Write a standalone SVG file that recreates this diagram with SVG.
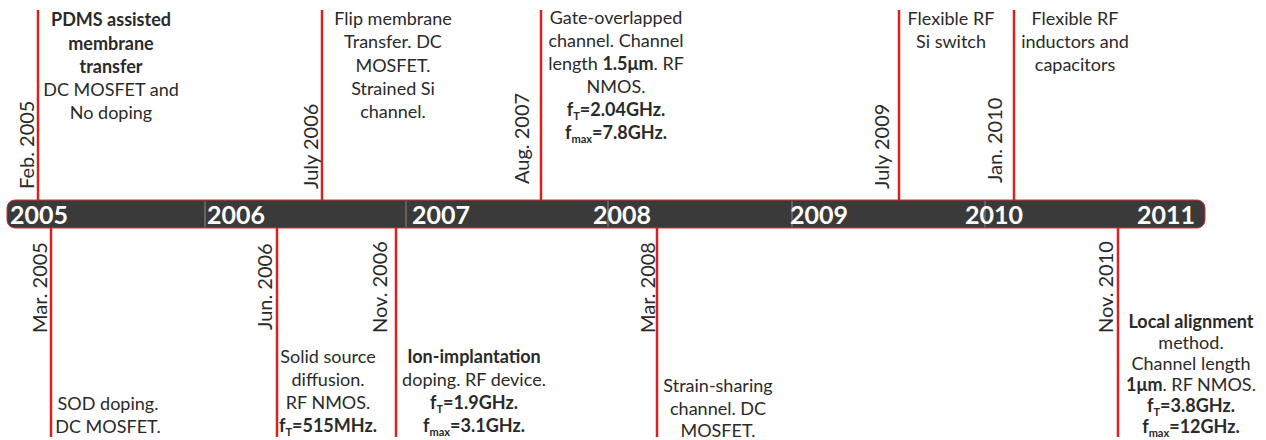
<svg xmlns="http://www.w3.org/2000/svg" width="1266" height="440" viewBox="0 0 1266 440">
<style>
.t{font-family:Lato,"Open Sans","Liberation Sans",sans-serif;font-size:18px;fill:#2a2a2a;text-anchor:middle}
.b{font-weight:bold}
.d{font-family:Lato,"Open Sans","Liberation Sans",sans-serif;font-size:20px;fill:#2a2a2a}
.y{font-family:Lato,"Open Sans","Liberation Sans",sans-serif;font-size:25px;font-weight:bold;fill:#ffffff}
.s{font-size:11px}
.ln{stroke:#dc1f1f;stroke-width:2.5;fill:none}
.sep{stroke:#8a8a8a;stroke-width:1}
</style>
<rect width="1266" height="440" fill="#ffffff"/>
<g id="timeline">
<rect x="7" y="200" width="1198" height="28" rx="8" fill="#3a3a3a" stroke="#d93030" stroke-width="1"/>
<line class="sep" x1="205" y1="201" x2="205" y2="227"/>
<line class="sep" x1="406" y1="201" x2="406" y2="227"/>
<line class="sep" x1="608" y1="201" x2="608" y2="227"/>
<line class="sep" x1="792" y1="201" x2="792" y2="227"/>
<line class="sep" x1="985" y1="201" x2="985" y2="227"/>
<text class="y" x="10" y="224">2005</text>
<text class="y" x="207" y="224">2006</text>
<text class="y" x="412" y="224">2007</text>
<text class="y" x="593" y="224">2008</text>
<text class="y" x="790" y="224">2009</text>
<text class="y" x="965" y="224">2010</text>
<text class="y" x="1137" y="224">2011</text>
</g>
<g id="connectors">
<line class="ln" x1="38" y1="10" x2="38" y2="200"/>
<line class="ln" x1="322" y1="10" x2="322" y2="200"/>
<line class="ln" x1="541" y1="10" x2="541" y2="200"/>
<line class="ln" x1="899" y1="10" x2="899" y2="200"/>
<line class="ln" x1="1014" y1="10" x2="1014" y2="200"/>
<line class="ln" x1="51" y1="228" x2="51" y2="437"/>
<line class="ln" x1="277" y1="228" x2="277" y2="437"/>
<line class="ln" x1="396" y1="228" x2="396" y2="437"/>
<line class="ln" x1="657" y1="228" x2="657" y2="437"/>
<line class="ln" x1="1118" y1="228" x2="1118" y2="437"/>
</g>
<g id="feb2005">
<text class="d" transform="translate(34,189) rotate(-90)">Feb. 2005</text>
<text class="t" x="111"><tspan class="b" x="111" y="26">PDMS assisted</tspan><tspan class="b" x="111" y="50">membrane</tspan><tspan class="b" x="111" y="73">transfer</tspan><tspan x="111" y="96">DC MOSFET and</tspan><tspan x="111" y="119">No doping</tspan></text>
</g>
<g id="jul2006">
<text class="d" transform="translate(318,189) rotate(-90)">July 2006</text>
<text class="t"><tspan x="393" y="25">Flip membrane</tspan><tspan x="393" y="48">Transfer. DC</tspan><tspan x="393" y="72">MOSFET.</tspan><tspan x="393" y="95">Strained Si</tspan><tspan x="393" y="118">channel.</tspan></text>
</g>
<g id="aug2007">
<text class="d" transform="translate(529,184) rotate(-90)">Aug. 2007</text>
<text class="t" x="616" y="24">Gate-overlapped</text>
<text class="t" x="616" y="47">channel. Channel</text>
<text class="t" x="616" y="70">length <tspan class="b">1.5μm</tspan>. RF</text>
<text class="t" x="616" y="93">NMOS.</text>
<text class="t b" x="616" y="116">f<tspan class="s" dy="4">T</tspan><tspan dy="-4">=2.04GHz.</tspan></text>
<text class="t b" x="616" y="139">f<tspan class="s" dy="4">max</tspan><tspan dy="-4">=7.8GHz.</tspan></text>
</g>
<g id="jul2009">
<text class="d" transform="translate(889,189) rotate(-90)">July 2009</text>
<text class="t"><tspan x="951" y="25">Flexible RF</tspan><tspan x="951" y="48">Si switch</tspan></text>
</g>
<g id="jan2010">
<text class="d" transform="translate(1002,183) rotate(-90)">Jan. 2010</text>
<text class="t"><tspan x="1075" y="25">Flexible RF</tspan><tspan x="1075" y="48">inductors and</tspan><tspan x="1075" y="71">capacitors</tspan></text>
</g>
<g id="mar2005">
<text class="d" transform="translate(47,333) rotate(-90)">Mar. 2005</text>
<text class="t"><tspan x="108" y="410">SOD doping.</tspan><tspan x="108" y="433">DC MOSFET.</tspan></text>
</g>
<g id="jun2006">
<text class="d" transform="translate(272,330) rotate(-90)">Jun. 2006</text>
<text class="t"><tspan x="328" y="363">Solid source</tspan><tspan x="328" y="386">diffusion.</tspan><tspan x="328" y="409">RF NMOS.</tspan></text>
<text class="t b" x="328" y="432">f<tspan class="s" dy="4">T</tspan><tspan dy="-4">=515MHz.</tspan></text>
</g>
<g id="nov2006">
<text class="d" transform="translate(387,333) rotate(-90)">Nov. 2006</text>
<text class="t"><tspan class="b" x="474" y="363">Ion-implantation</tspan><tspan x="474" y="386">doping. RF device.</tspan></text>
<text class="t b" x="474" y="409">f<tspan class="s" dy="4">T</tspan><tspan dy="-4">=1.9GHz.</tspan></text>
<text class="t b" x="474" y="432">f<tspan class="s" dy="4">max</tspan><tspan dy="-4">=3.1GHz.</tspan></text>
</g>
<g id="mar2008">
<text class="d" transform="translate(655,333) rotate(-90)">Mar. 2008</text>
<text class="t"><tspan x="718" y="392">Strain-sharing</tspan><tspan x="718" y="415">channel. DC</tspan><tspan x="718" y="437">MOSFET.</tspan></text>
</g>
<g id="nov2010">
<text class="d" transform="translate(1113,333) rotate(-90)">Nov. 2010</text>
<text class="t b" x="1191" y="328">Local alignment</text>
<text class="t" x="1191" y="349">method.</text>
<text class="t" x="1191" y="370">Channel length</text>
<text class="t" x="1191" y="391"><tspan class="b">1μm</tspan>. RF NMOS.</text>
<text class="t b" x="1191" y="412">f<tspan class="s" dy="4">T</tspan><tspan dy="-4">=3.8GHz.</tspan></text>
<text class="t b" x="1191" y="433">f<tspan class="s" dy="4">max</tspan><tspan dy="-4">=12GHz.</tspan></text>
</g>
</svg>
